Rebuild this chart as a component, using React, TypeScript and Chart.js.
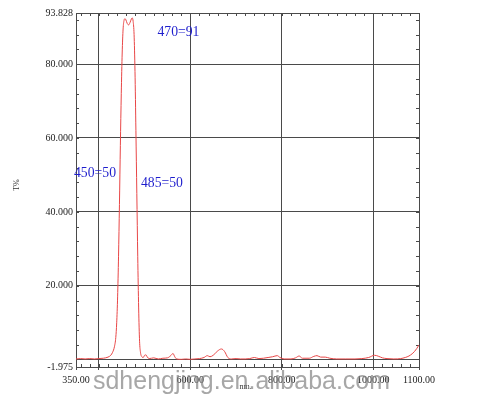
import { useEffect, useRef } from 'react';
import { Chart, registerables } from 'chart.js';

Chart.register(...registerables);

// ---- data ----
const wavelengths = [
  350, 360, 370, 380, 390, 400, 410, 420, 426, 430, 434, 437, 439, 441, 443, 445, 447, 449, 451, 453,
  455, 457, 459, 462, 465, 468, 471, 473, 475, 477, 479, 481, 483, 485, 487, 489, 491, 494, 497, 500,
  503, 506, 510, 520, 530, 540, 550, 558, 562, 566, 570, 580, 590, 600, 610, 620, 630, 637, 643, 650,
  660, 668, 675, 682, 690, 700, 710, 720, 730, 740, 750, 760, 770, 780, 790, 796, 805, 820, 830, 838,
  845, 860, 870, 877, 885, 895, 905, 920, 940, 960, 975, 990, 1003, 1012, 1020, 1030, 1045, 1060, 1070, 1078,
  1085, 1090, 1095, 1100,
];
const transmittance = [
  0.2, 0.3, 0.2, 0.3, 0.2, 0.3, 0.4, 0.7, 1.2, 2.0, 3.5, 6, 10, 17, 28, 42, 58, 72, 83, 89.5,
  91.8, 92.3, 92.0, 91.0, 90.6, 91.2, 92.2, 92.5, 91.5, 88, 78, 62, 45, 28, 14, 5, 2, 0.8, 0.6, 1.2,
  1.3, 0.7, 0.3, 0.5, 0.2, 0.4, 0.5, 1.2, 1.7, 0.8, 0.2, 0.1, 0.2, 0.1, 0.2, 0.3, 0.6, 1.1, 0.8, 1.2,
  2.4, 2.9, 2.2, 0.6, 0.2, 0.3, 0.2, 0.2, 0.3, 0.6, 0.3, 0.4, 0.6, 0.8, 1.1, 0.6, 0.2, 0.2, 0.5, 1.0,
  0.4, 0.4, 0.9, 1.1, 0.7, 0.7, 0.4, 0.2, 0.2, 0.2, 0.3, 0.6, 1.2, 0.9, 0.5, 0.3, 0.2, 0.3, 0.6, 1.0,
  1.6, 2.2, 3.0, 4.0,
];
const xTickValues = [350, 400, 600, 800, 1000, 1100];
const xTickLabels = ['350.00', '', '600.00', '800.00', '1000.00', '1100.00'];
const yTickValues = [-1.975, 0, 20, 40, 60, 80, 93.828];
const yTickLabels = ['-1.975', '', '20.000', '40.000', '60.000', '80.000', '93.828'];
const annotationLabels = ['470=91', '450=50', '485=50'];
const xTitle = 'nm.';
const yTitle = 'T%';
const watermark = 'sdhengjing.en.alibaba.com';

// ---- layout (not data) ----
const annotationAnchors = [
  { x: 574, y: 88.6 },
  { x: 391.5, y: 50.5 },
  { x: 538, y: 47.8 },
];

const GRID = '#4a4a4a';

const overlay = {
  id: 'overlay',
  beforeDatasetsDraw(chart: any) {
    const { ctx, chartArea: ca, scales } = chart;
    const x = scales.x;
    const y = scales.y;
    ctx.save();
    ctx.strokeStyle = GRID;
    ctx.lineWidth = 1;
    ctx.beginPath();
    for (let v = 360; v < 1100; v += 20) {
      const px = Math.round(x.getPixelForValue(v)) + 0.5;
      ctx.moveTo(px, ca.bottom);
      ctx.lineTo(px, ca.bottom - 3);
      ctx.moveTo(px, ca.top);
      ctx.lineTo(px, ca.top + 3);
    }
    for (let v = 4; v < 93.8; v += 4) {
      const py = Math.round(y.getPixelForValue(v)) + 0.5;
      ctx.moveTo(ca.left, py);
      ctx.lineTo(ca.left + 3, py);
      ctx.moveTo(ca.right, py);
      ctx.lineTo(ca.right - 3, py);
    }
    ctx.stroke();
    ctx.restore();
  },
  afterDraw(chart: any) {
    const { ctx, chartArea: ca, scales } = chart;
    const x = scales.x;
    const y = scales.y;
    ctx.save();
    // annotations
    ctx.fillStyle = 'rgb(30,30,205)';
    ctx.font = '15px "Liberation Serif", serif';
    ctx.textAlign = 'center';
    ctx.textBaseline = 'middle';
    annotationLabels.forEach((t, i) => {
      const a = annotationAnchors[i];
      ctx.fillText(t, x.getPixelForValue(a.x), y.getPixelForValue(a.y), 42);
    });
    // axis titles
    ctx.fillStyle = '#333';
    ctx.font = '8px "Liberation Serif", serif';
    ctx.fillText(xTitle, (ca.left + ca.right) / 2 - 2, 387);
    ctx.save();
    ctx.translate(17, 185);
    ctx.rotate(-Math.PI / 2);
    ctx.fillText(yTitle, 0, 0);
    ctx.restore();
    // watermark
    ctx.fillStyle = 'rgba(130,130,130,0.7)';
    ctx.font = '25px "Liberation Sans", Arial, sans-serif';
    ctx.textAlign = 'left';
    ctx.textBaseline = 'alphabetic';
    ctx.fillText(watermark, 93, 389, 297);
    ctx.restore();
  },
};

export default function App() {
  const ref = useRef<HTMLCanvasElement>(null);
  useEffect(() => {
    const chart = new Chart(ref.current as HTMLCanvasElement, {
      type: 'line',
      data: {
        datasets: [
          {
            data: wavelengths.map((w, i) => ({ x: w, y: transmittance[i] })),
            borderColor: 'rgb(232,70,70)',
            borderWidth: 1,
            pointRadius: 0,
            fill: false,
            cubicInterpolationMode: 'monotone',
          },
        ],
      },
      options: {
        animation: false,
        responsive: false,
        layout: { padding: { top: 13, right: 61, left: 0, bottom: 0 } },
        plugins: { legend: { display: false }, tooltip: { enabled: false } },
        scales: {
          x: {
            type: 'linear',
            min: 350,
            max: 1100,
            afterBuildTicks: (s: any) => {
              s.ticks = xTickValues.map((v) => ({ value: v }));
            },
            afterFit: (s: any) => {
              s.height = 37;
            },
            ticks: {
              autoSkip: false,
              maxRotation: 0,
              padding: 4,
              color: '#222',
              font: { family: '"Liberation Serif", serif', size: 10 },
              callback: (v: any) => xTickLabels[xTickValues.indexOf(Number(v))] ?? '',
            },
            grid: { color: GRID, lineWidth: 1, tickLength: 3, drawTicks: true },
            border: { display: true, color: GRID },
          },
          y: {
            type: 'linear',
            min: -1.975,
            max: 93.828,
            afterBuildTicks: (s: any) => {
              s.ticks = yTickValues.map((v) => ({ value: v }));
            },
            afterFit: (s: any) => {
              s.width = 76;
            },
            ticks: {
              autoSkip: false,
              padding: 3,
              color: '#222',
              font: { family: '"Liberation Serif", serif', size: 10 },
              callback: (v: any) => yTickLabels[yTickValues.indexOf(Number(v))] ?? '',
            },
            grid: { color: GRID, lineWidth: 1, drawTicks: false },
            border: { display: true, color: GRID },
          },
        },
      },
      plugins: [overlay],
    } as any);
    return () => chart.destroy();
  }, []);
  return (
    <div style={{ position: 'absolute', left: 0, top: 0, width: 480, height: 404, background: '#fff' }}>
      <canvas ref={ref} width={480} height={404} style={{ display: 'block' }} />
    </div>
  );
}
